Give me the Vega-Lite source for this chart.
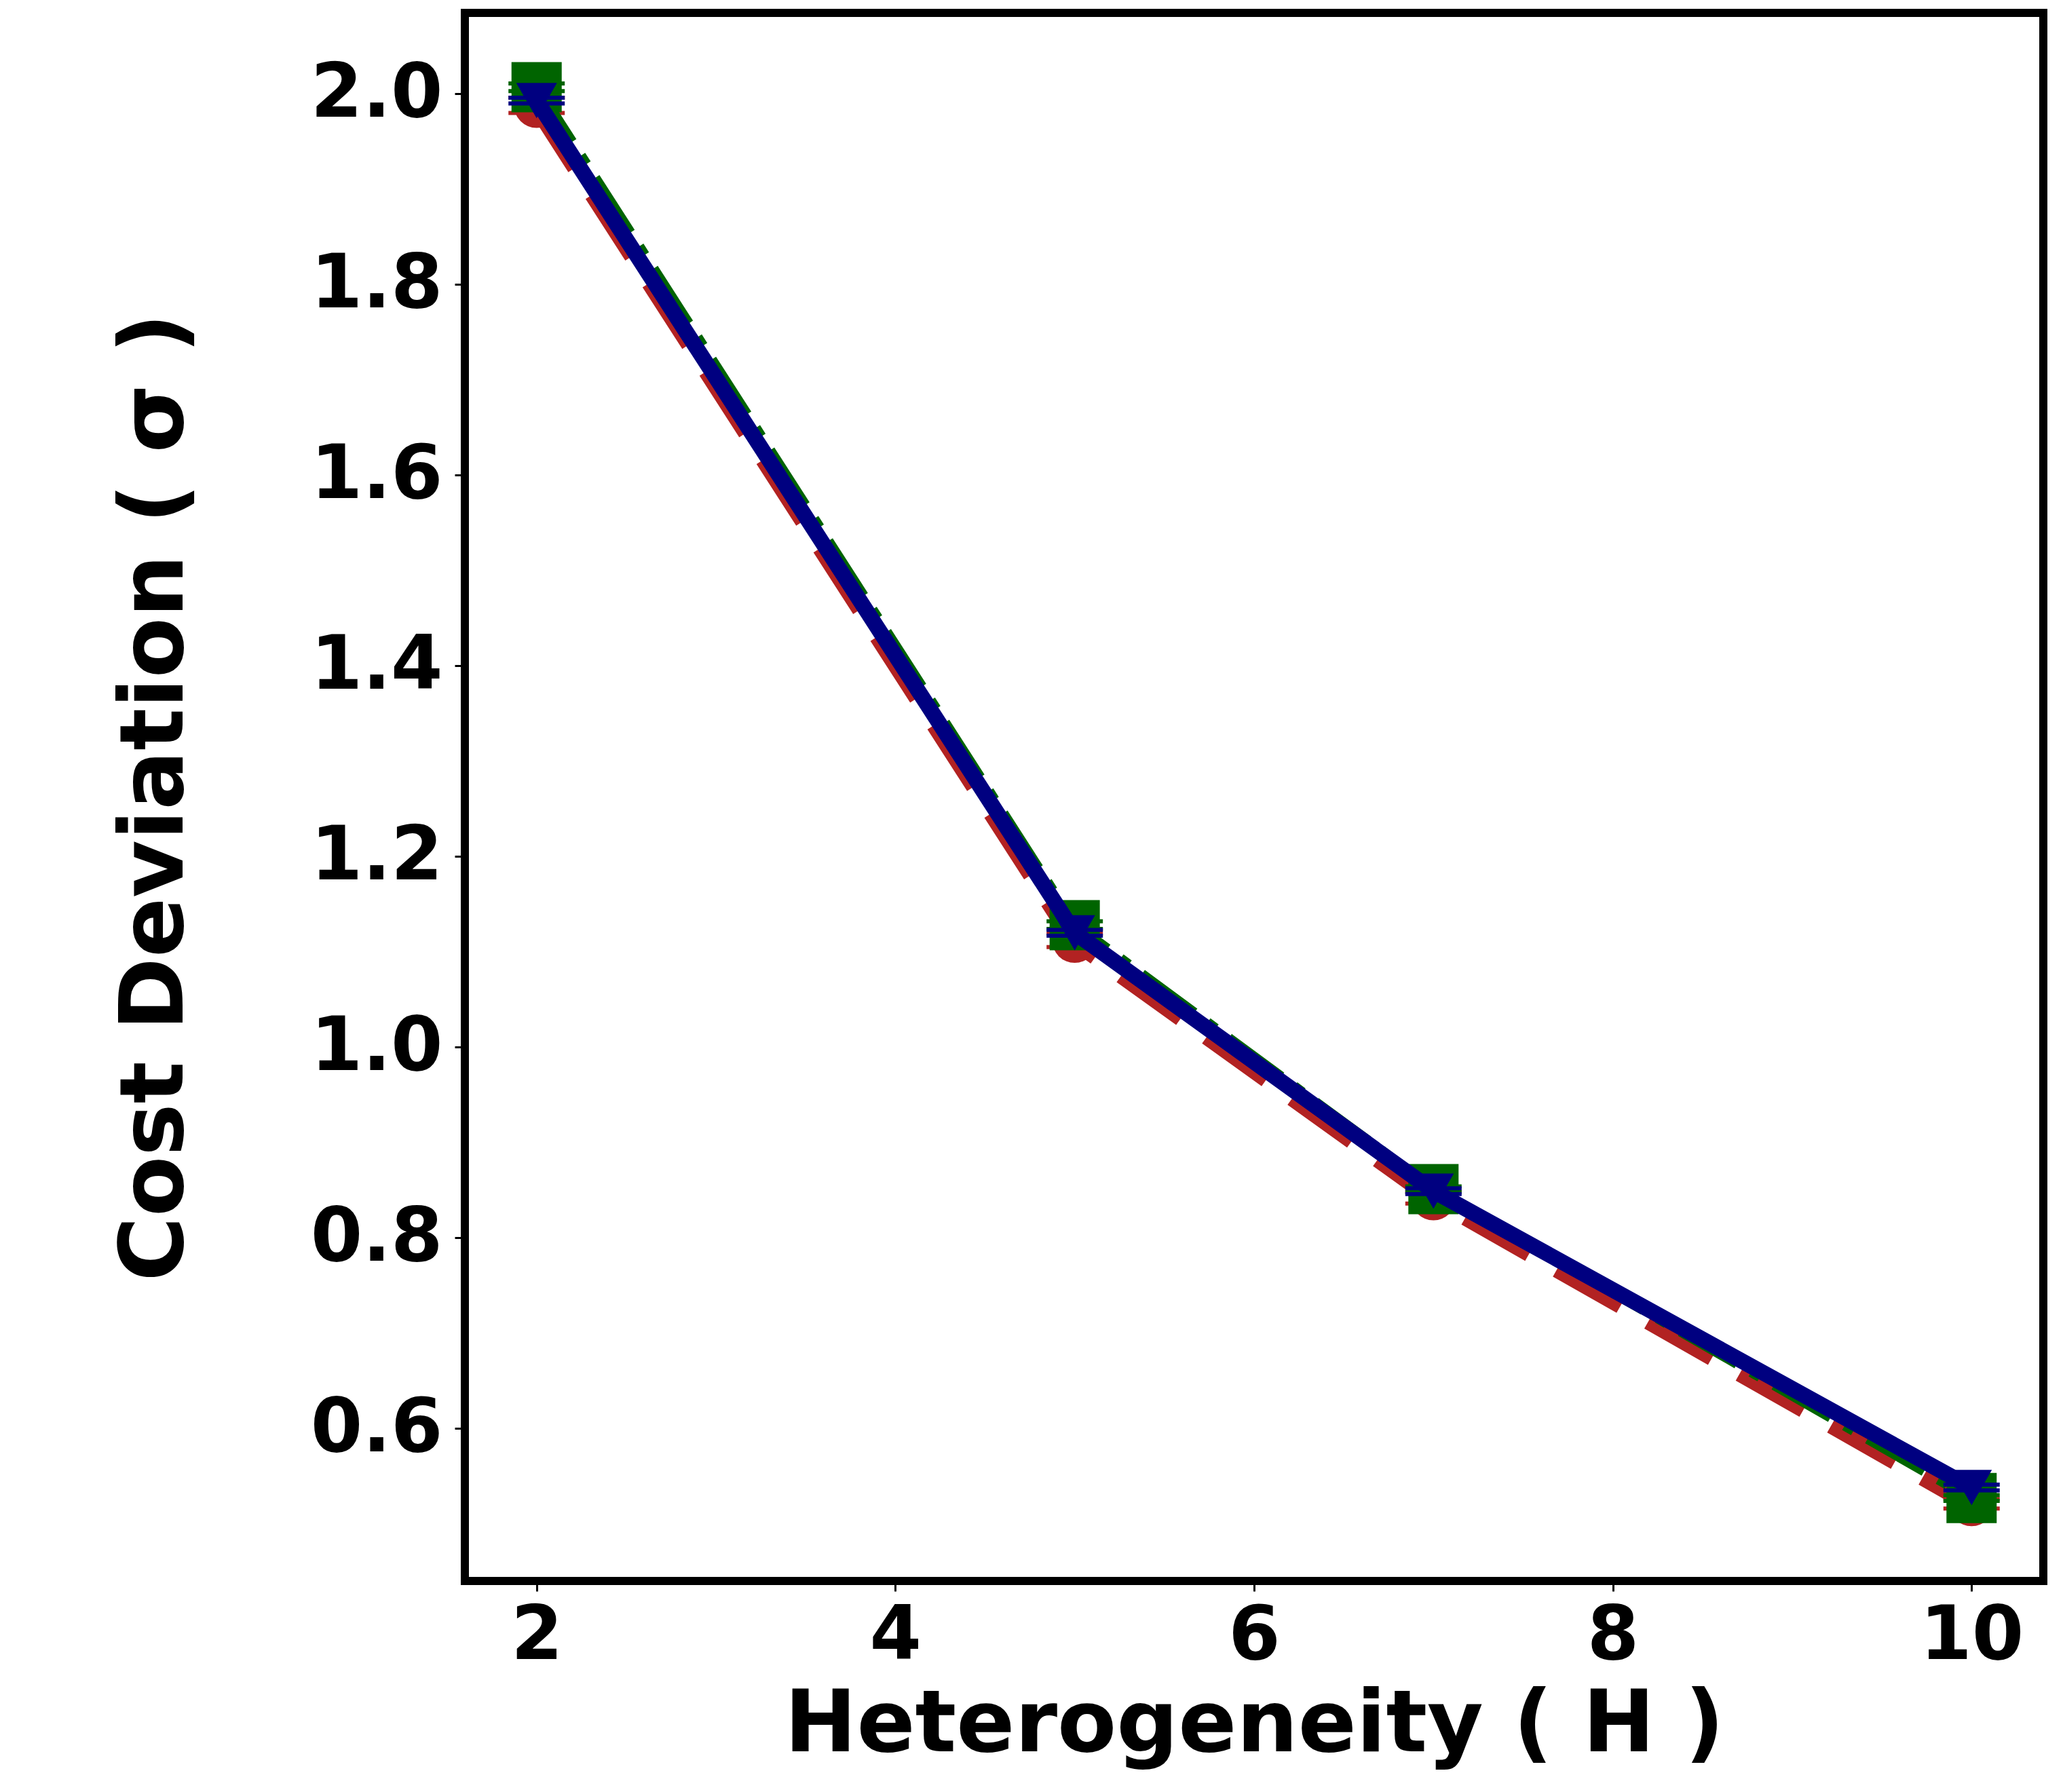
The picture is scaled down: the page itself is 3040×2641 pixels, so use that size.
{
  "$schema": "https://vega.github.io/schema/vega-lite/v6.json",
  "autosize": {"type": "none"},
  "width": 2326,
  "height": 2311,
  "padding": {"left": 685, "top": 19, "right": 29, "bottom": 311},
  "background": "white",
  "config": {
    "view": {"stroke": "black", "strokeWidth": 12},
    "font": "DejaVu Sans",
    "axis": {
      "grid": false,
      "domain": false,
      "tickColor": "black",
      "tickWidth": 3,
      "tickSize": 15,
      "labelFont": "DejaVu Sans",
      "labelFontWeight": "bold",
      "labelFontSize": 110,
      "labelColor": "black",
      "labelLimit": 0,
      "titleFont": "DejaVu Sans",
      "titleFontWeight": "bold",
      "titleFontSize": 127,
      "titleColor": "black",
      "titleLimit": 0
    }
  },
  "data": {
    "values": [
      {"series": "red", "H": 2, "sigma": 1.988, "lo": 1.980, "hi": 1.996},
      {"series": "red", "H": 5, "sigma": 1.112, "lo": 1.105, "hi": 1.119},
      {"series": "red", "H": 7, "sigma": 0.842, "lo": 0.836, "hi": 0.848},
      {"series": "red", "H": 10, "sigma": 0.521, "lo": 0.516, "hi": 0.526},
      {"series": "green", "H": 2, "sigma": 2.007, "lo": 2.003, "hi": 2.011},
      {"series": "green", "H": 5, "sigma": 1.128, "lo": 1.124, "hi": 1.132},
      {"series": "green", "H": 7, "sigma": 0.851, "lo": 0.848, "hi": 0.854},
      {"series": "green", "H": 10, "sigma": 0.527, "lo": 0.524, "hi": 0.530},
      {"series": "blue", "H": 2, "sigma": 1.993, "lo": 1.990, "hi": 1.996},
      {"series": "blue", "H": 5, "sigma": 1.120, "lo": 1.117, "hi": 1.123},
      {"series": "blue", "H": 7, "sigma": 0.849, "lo": 0.846, "hi": 0.852},
      {"series": "blue", "H": 10, "sigma": 0.538, "lo": 0.535, "hi": 0.541}
    ]
  },
  "encoding": {
    "x": {
      "field": "H", "type": "quantitative",
      "scale": {"domain": [1.6, 10.4], "nice": false, "zero": false},
      "axis": {"values": [2, 4, 6, 8, 10], "format": "d", "labelPadding": 12, "titlePadding": 14, "title": "Heterogeneity ( H )"}
    },
    "y": {
      "field": "sigma", "type": "quantitative",
      "scale": {"domain": [0.44, 2.085], "nice": false, "zero": false},
      "axis": {"values": [0.6, 0.8, 1.0, 1.2, 1.4, 1.6, 1.8, 2.0], "format": ".1f", "labelPadding": 18, "titlePadding": 190, "titleFontSize": 130, "title": "Cost Deviation ( σ )"}
    }
  },
  "layer": [
    {
      "transform": [{"filter": "datum.series == 'red'"}],
      "mark": {"type": "line", "color": "#B22222", "strokeWidth": 28, "strokeDash": [108, 47], "strokeCap": "butt"}
    },
    {
      "transform": [{"filter": "datum.series == 'red'"}],
      "mark": {"type": "point", "shape": "stroke", "size": 6889, "strokeWidth": 6, "color": "#B22222", "opacity": 1},
      "encoding": {"y": {"field": "lo", "type": "quantitative"}}
    },
    {
      "transform": [{"filter": "datum.series == 'red'"}],
      "mark": {"type": "point", "shape": "stroke", "size": 6889, "strokeWidth": 6, "color": "#B22222", "opacity": 1},
      "encoding": {"y": {"field": "hi", "type": "quantitative"}}
    },
    {
      "transform": [{"filter": "datum.series == 'red'"}],
      "mark": {"type": "point", "shape": "circle", "filled": true, "size": 4400, "color": "#B22222", "opacity": 1}
    },
    {
      "transform": [{"filter": "datum.series == 'green'"}],
      "mark": {"type": "line", "color": "#006400", "strokeWidth": 16, "strokeDash": [96, 24, 15, 24], "strokeCap": "butt"}
    },
    {
      "transform": [{"filter": "datum.series == 'green'"}],
      "mark": {"type": "point", "shape": "stroke", "size": 6889, "strokeWidth": 6, "color": "#006400", "opacity": 1},
      "encoding": {"y": {"field": "lo", "type": "quantitative"}}
    },
    {
      "transform": [{"filter": "datum.series == 'green'"}],
      "mark": {"type": "point", "shape": "stroke", "size": 6889, "strokeWidth": 6, "color": "#006400", "opacity": 1},
      "encoding": {"y": {"field": "hi", "type": "quantitative"}}
    },
    {
      "transform": [{"filter": "datum.series == 'green'"}],
      "mark": {"type": "point", "shape": "square", "filled": true, "size": 5476, "color": "#006400", "opacity": 1}
    },
    {
      "transform": [{"filter": "datum.series == 'blue'"}],
      "mark": {"type": "line", "color": "#000080", "strokeWidth": 23, "strokeJoin": "round"}
    },
    {
      "transform": [{"filter": "datum.series == 'blue'"}],
      "mark": {"type": "point", "shape": "stroke", "size": 6889, "strokeWidth": 6, "color": "#000080", "opacity": 1},
      "encoding": {"y": {"field": "lo", "type": "quantitative"}}
    },
    {
      "transform": [{"filter": "datum.series == 'blue'"}],
      "mark": {"type": "point", "shape": "stroke", "size": 6889, "strokeWidth": 6, "color": "#000080", "opacity": 1},
      "encoding": {"y": {"field": "hi", "type": "quantitative"}}
    },
    {
      "transform": [{"filter": "datum.series == 'blue'"}],
      "mark": {"type": "point", "shape": "triangle-down", "filled": true, "size": 3600, "color": "#000080", "opacity": 1}
    }
  ]
}
